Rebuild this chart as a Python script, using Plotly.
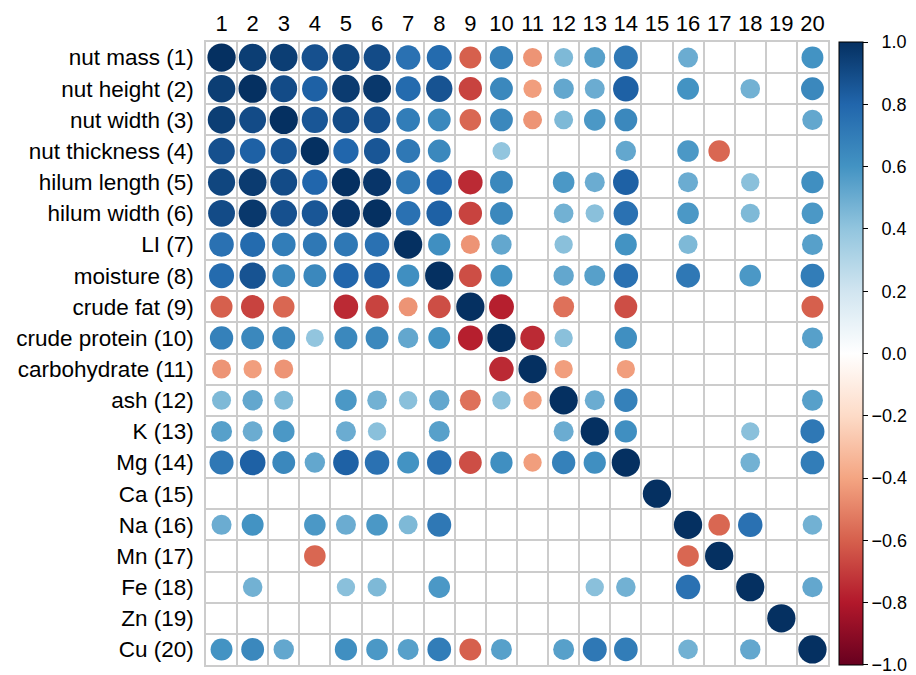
import plotly.graph_objects as go

N = None
row_labels = ["nut mass (1)", "nut height (2)", "nut width (3)", "nut thickness (4)",
              "hilum length (5)", "hilum width (6)", "LI (7)", "moisture (8)",
              "crude fat (9)", "crude protein (10)", "carbohydrate (11)", "ash (12)",
              "K (13)", "Mg (14)", "Ca (15)", "Na (16)", "Mn (17)", "Fe (18)",
              "Zn (19)", "Cu (20)"]
col_labels = [str(i) for i in range(1, 21)]
cbar_ticks = [-1.0, -0.8, -0.6, -0.4, -0.2, 0.0, 0.2, 0.4, 0.6, 0.8, 1.0]

r1  = [1.00,0.95,0.95,0.88,0.92,0.90,0.75,0.78,-0.60,0.68,-0.45,0.45,0.55,0.72,N,0.50,N,N,N,0.60]
r2  = [0.95,1.00,0.90,0.82,0.96,0.97,0.78,0.87,-0.68,0.65,-0.42,0.52,0.50,0.82,N,0.60,N,0.48,N,0.65]
r3  = [0.95,0.90,1.00,0.86,0.90,0.88,0.70,0.65,-0.58,0.65,-0.45,0.45,0.58,0.65,N,N,N,N,N,0.52]
r4  = [0.88,0.82,0.86,1.00,0.80,0.86,0.72,0.65,N,0.40,N,N,N,0.52,N,0.58,-0.58,N,N,N]
r5  = [0.92,0.96,0.90,0.80,1.00,0.98,0.72,0.80,-0.75,0.65,N,0.58,0.50,0.82,N,0.50,N,0.42,N,0.62]
r6  = [0.90,0.97,0.88,0.86,0.98,1.00,0.75,0.82,-0.68,0.65,N,0.48,0.42,0.75,N,0.58,N,0.45,N,0.58]
r7  = [0.75,0.78,0.70,0.72,0.72,0.75,1.00,0.62,-0.45,0.52,N,0.42,N,0.60,N,0.45,N,N,N,0.55]
r8  = [0.78,0.87,0.65,0.65,0.80,0.82,0.62,1.00,-0.65,0.60,N,0.52,0.55,0.75,N,0.72,N,0.58,N,0.70]
r9  = [-0.60,-0.68,-0.58,N,-0.75,-0.68,-0.45,-0.65,1.00,-0.78,N,-0.55,N,-0.65,N,N,N,N,N,-0.60]
r10 = [0.68,0.65,0.65,0.40,0.65,0.65,0.52,0.60,-0.78,1.00,-0.75,0.42,N,0.62,N,N,N,N,N,0.55]
r11 = [-0.45,-0.42,-0.45,N,N,N,N,N,N,-0.75,1.00,-0.42,N,-0.42,N,N,N,N,N,N]
r12 = [0.45,0.52,0.45,N,0.58,0.48,0.42,0.52,-0.55,0.42,-0.42,1.00,0.50,0.68,N,N,N,N,N,0.55]
r13 = [0.55,0.50,0.58,N,0.50,0.42,N,0.55,N,N,N,0.50,1.00,0.62,N,N,N,0.42,N,0.72]
r14 = [0.72,0.82,0.65,0.52,0.82,0.75,0.60,0.75,-0.65,0.62,-0.42,0.68,0.62,1.00,N,N,N,0.48,N,0.70]
r15 = [N,N,N,N,N,N,N,N,N,N,N,N,N,N,1.00,N,N,N,N,N]
r16 = [0.50,0.60,N,0.58,0.50,0.58,0.45,0.72,N,N,N,N,N,N,N,1.00,-0.58,0.75,N,0.48]
r17 = [N,N,N,-0.58,N,N,N,N,N,N,N,N,N,N,N,-0.58,1.00,N,N,N]
r18 = [N,0.48,N,N,0.42,0.45,N,0.58,N,N,N,N,0.42,0.48,N,0.75,N,1.00,N,0.52]
r19 = [N,N,N,N,N,N,N,N,N,N,N,N,N,N,N,N,N,N,1.00,N]
r20 = [0.60,0.65,0.52,N,0.62,0.58,0.55,0.70,-0.60,0.55,N,0.55,0.72,0.70,N,0.48,N,0.52,N,1.00]

corr = [r1, r2, r3, r4, r5, r6, r7, r8, r9, r10, r11, r12, r13, r14, r15, r16, r17, r18, r19, r20]

colorscale = [
    [0.0, "#67001F"], [0.1, "#B2182B"], [0.2, "#D6604D"], [0.3, "#F4A582"],
    [0.4, "#FDDBC7"], [0.5, "#FFFFFF"], [0.6, "#D1E5F0"], [0.7, "#92C5DE"],
    [0.8, "#4393C3"], [0.9, "#2166AC"], [1.0, "#053061"],
]

# the page body has an 8px margin, so the figure is drawn 8px in from the top-left
OFF = 8
W, H = 916 - OFF, 675 - OFF
ML, MT = 206 - OFF, 42 - OFF
MR = W - (828 - OFF)
MB = H - (665 - OFF)
n = len(col_labels)
plot_w = W - ML - MR
cell_px = plot_w / n

xs, ys, vs, sz = [], [], [], []
for i, row in enumerate(corr):
    for j, v in enumerate(row):
        if v is None:
            continue
        xs.append(j + 1)
        ys.append(i + 1)
        vs.append(v)
        sz.append(0.91 * cell_px * abs(v) ** 0.5)

# labels: minus sign for negatives, figure space for the rest so digits line up
cbar_text = [("\u2212" if t < 0 else "\u2007") + f"{abs(t):.1f}" for t in cbar_ticks]
# keep end ticks a hair inside the bar range so they are not dropped
cbar_pos = [max(min(t, 0.9999), -0.9999) for t in cbar_ticks]

fig = go.Figure(go.Scatter(
    x=xs, y=ys, mode="markers",
    marker=dict(
        size=sz, color=vs, colorscale=colorscale, cmin=-1, cmax=1,
        line=dict(width=0), opacity=1,
        colorbar=dict(
            x=1.0 + 11 / plot_w, xanchor="left", xpad=0,
            y=0.5, yanchor="middle", len=1.0, lenmode="fraction",
            thickness=24, thicknessmode="pixels", ypad=0,
            outlinewidth=1, outlinecolor="black",
            tickvals=cbar_pos, ticktext=cbar_text,
            ticks="outside", ticklen=5, tickwidth=1, tickcolor="black",
            ticklabeloverflow="allow",
            tickfont=dict(family="Liberation Sans", size=18, color="black"),
        ),
    ),
    hoverinfo="skip",
))

half = [k + 0.5 for k in range(n + 1)]
grid = dict(tickvals=half, showgrid=True, gridcolor="#cccccc", gridwidth=1.5, ticks="")

fig.update_layout(
    width=W, height=H,
    margin=dict(l=ML, r=MR, t=MT, b=MB, autoexpand=False),
    paper_bgcolor="white", plot_bgcolor="white",
    showlegend=False,
    xaxis=dict(
        range=[0.5, n + 0.5], side="top", automargin=False,
        tickvals=list(range(1, n + 1)), ticktext=col_labels,
        showgrid=False, zeroline=False, ticks="",
        showline=True, mirror=True, linecolor="#cccccc", linewidth=1.5,
        tickfont=dict(family="Liberation Sans", size=22, color="black"),
        minor=grid, ticklabelstandoff=0,
    ),
    yaxis=dict(
        range=[n + 0.5, 0.5], automargin=False,
        tickvals=list(range(1, n + 1)), ticktext=row_labels,
        showgrid=False, zeroline=False, ticks="",
        showline=True, mirror=True, linecolor="#cccccc", linewidth=1.5,
        tickfont=dict(family="Liberation Sans", size=22.5, color="black"),
        minor=grid, ticklabelstandoff=6,
    ),
)

fig.write_html("out.html")
